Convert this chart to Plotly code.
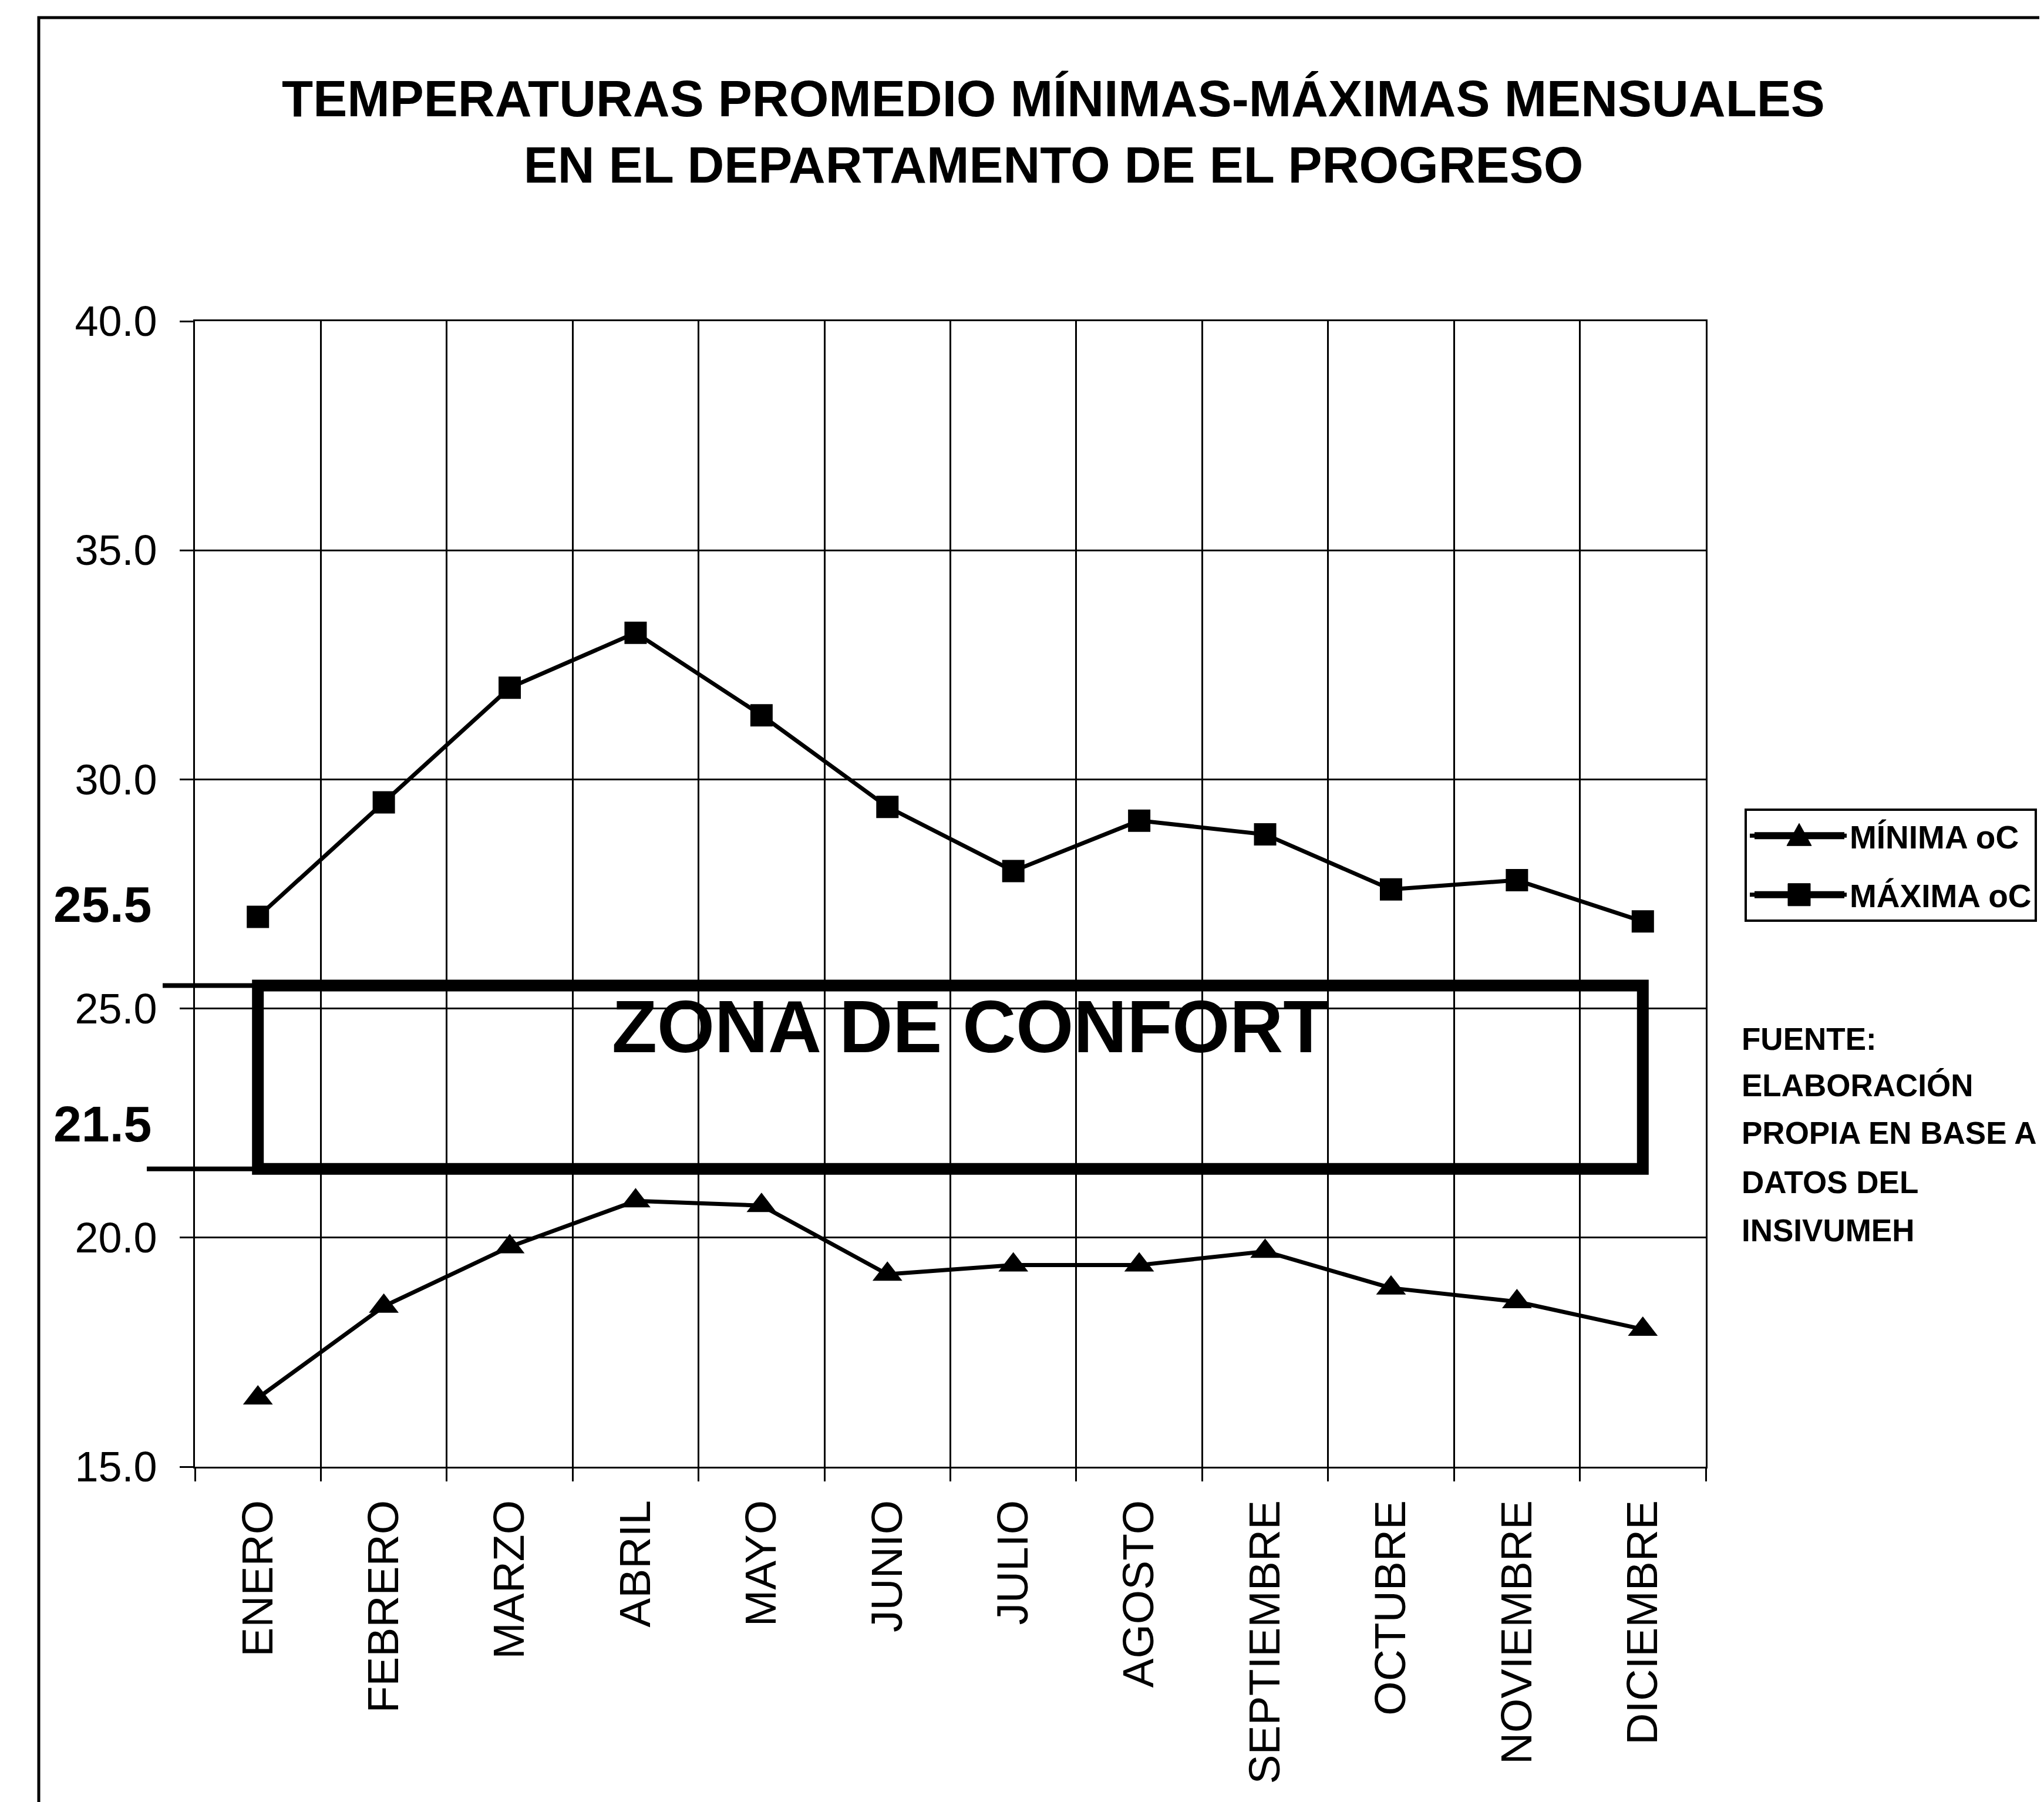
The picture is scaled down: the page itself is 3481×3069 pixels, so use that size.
import plotly.graph_objects as go

# ---------------- data ----------------
meses = ["ENERO", "FEBRERO", "MARZO", "ABRIL", "MAYO", "JUNIO", "JULIO",
         "AGOSTO", "SEPTIEMBRE", "OCTUBRE", "NOVIEMBRE", "DICIEMBRE"]
minima = [16.5, 18.5, 19.8, 20.8, 20.7, 19.2, 19.4, 19.4, 19.7, 18.9, 18.6, 18.0]
maxima = [27.0, 29.5, 32.0, 33.2, 31.4, 29.4, 28.0, 29.1, 28.8, 27.6, 27.8, 26.9]
y_ticks = [15, 20, 25, 30, 35, 40]
confort_max = 25.5
confort_min = 21.5
fuente = ["FUENTE:", "ELABORACIÓN", "PROPIA EN BASE A", "DATOS DEL", "INSIVUMEH"]

# ---------------- geometry (pixels) ----------------
W, H = 3481, 3069
L, R, T, B = 324, 2897, 539, 2490
FONT = "Liberation Sans, Arial, sans-serif"


def px(x):
    return (x - L) / (R - L)


def py(y):
    return (B - y) / (B - T)


fig = go.Figure()
fig.add_trace(go.Scatter(
    x=meses, y=minima, name="MÍNIMA oC", mode="lines+markers",
    legendgroup="min",
    line=dict(color="black", width=7),
    marker=dict(symbol="triangle-up", size=44, color="black"),
))
fig.add_trace(go.Scatter(
    x=meses, y=maxima, name="MÁXIMA oC", mode="lines+markers",
    legendgroup="max",
    line=dict(color="black", width=7),
    marker=dict(symbol="square", size=38, color="black"),
))

# legend geometry (plotly vertical legend: item centre = top + bw + gap + h/2)
LEG_TOP = 1369
LEG_FONT = 55
LEG_BW = 4
LEG_GROUPGAP = 26
item_h = LEG_FONT * 1.3 + 3
leg_y = [LEG_TOP + LEG_BW + 5 + item_h / 2,
         LEG_TOP + LEG_BW + 5 + item_h + LEG_GROUPGAP + item_h / 2]

# legend sample decoration (long line + big marker like the original legend)
lx0, lx1, lxc = 2980, 3133, 3056
legend_deco = []
for yy in leg_y:
    legend_deco.append(dict(type="line", xref="paper", yref="paper",
                            x0=px(lx0), x1=px(lx1), y0=py(yy), y1=py(yy),
                            line=dict(color="black", width=12)))
tri = (f"M {px(lxc - 21)},{py(leg_y[0] + 17)} L {px(lxc + 21)},{py(leg_y[0] + 17)} "
       f"L {px(lxc)},{py(leg_y[0] - 21)} Z")
legend_deco.append(dict(type="path", xref="paper", yref="paper", path=tri,
                        fillcolor="black", line=dict(color="black", width=1)))
legend_deco.append(dict(type="rect", xref="paper", yref="paper",
                        x0=px(lxc - 19), x1=px(lxc + 19),
                        y0=py(leg_y[1] + 19), y1=py(leg_y[1] - 19),
                        fillcolor="black", line=dict(color="black", width=1)))

shapes = [
    # outer frame
    dict(type="rect", xref="paper", yref="paper", x0=px(58), x1=px(3700),
         y0=py(3300), y1=py(22), line=dict(color="black", width=5), layer="below"),
    # comfort-zone guide lines
    dict(type="line", xref="paper", yref="y", x0=px(269), x1=0.5 / 12,
         y0=confort_max, y1=confort_max, line=dict(color="black", width=8)),
    dict(type="line", xref="paper", yref="y", x0=px(242), x1=0.5 / 12,
         y0=confort_min, y1=confort_min, line=dict(color="black", width=8)),
    # comfort-zone box
    dict(type="rect", xref="x", yref="y", x0=0, x1=len(meses) - 1,
         y0=confort_min, y1=confort_max, line=dict(color="black", width=20)),
] + legend_deco

annotations = [
    dict(text="ZONA DE CONFORT", xref="paper", yref="y", x=px(1644), y=24.6,
         showarrow=False, xanchor="center", yanchor="middle",
         font=dict(family=FONT, size=126, color="black", weight="bold")),
    dict(text=f"{confort_max:.1f}", xref="paper", yref="y", x=px(252), y=confort_max + 1.77,
         showarrow=False, xanchor="right", yanchor="middle",
         font=dict(family=FONT, size=86, color="black", weight="bold")),
    dict(text=f"{confort_min:.1f}", xref="paper", yref="y", x=px(252), y=confort_min + 0.98,
         showarrow=False, xanchor="right", yanchor="middle",
         font=dict(family=FONT, size=86, color="black", weight="bold")),
]
src_y = [1762, 1840, 1922, 2005, 2087]
for line_txt, yc in zip(fuente, src_y):
    annotations.append(dict(
        text=line_txt, xref="paper", yref="paper", x=px(2956), y=py(yc),
        showarrow=False, xanchor="left", yanchor="middle",
        font=dict(family=FONT, size=53, color="black", weight="bold")))

fig.update_layout(
    width=W, height=H, autosize=False,
    template="none",
    paper_bgcolor="white", plot_bgcolor="white",
    margin=dict(l=L, r=W - R, t=T, b=H - B, pad=0),
    font=dict(family=FONT, color="black"),
    title=dict(
        text="TEMPERATURAS PROMEDIO MÍNIMAS-MÁXIMAS MENSUALES<br>EN EL DEPARTAMENTO DE EL PROGRESO",
        xref="container", yref="container", x=1786 / W, y=1 - 190 / H,
        xanchor="center", yanchor="top",
        font=dict(family=FONT, size=87, color="black", weight="bold"),
    ),
    showlegend=True,
    legend=dict(
        x=px(2963), y=py(LEG_TOP), xanchor="left", yanchor="top",
        bgcolor="rgba(0,0,0,0)", bordercolor="black", borderwidth=LEG_BW,
        font=dict(family=FONT, size=LEG_FONT, color="black", weight="bold"),
        tracegroupgap=LEG_GROUPGAP, itemwidth=165,
    ),
    xaxis=dict(
        type="category", categoryorder="array", categoryarray=meses,
        range=[-0.5, len(meses) - 0.5],
        tickson="boundaries", ticks="outside", ticklen=22, tickwidth=3, tickcolor="black",
        showgrid=True, gridcolor="black", gridwidth=3,
        showline=True, linecolor="black", linewidth=3, mirror=True,
        tickangle=-90, ticklabelstandoff=24,
        tickfont=dict(family=FONT, size=75, color="black"),
        automargin=False, zeroline=False,
    ),
    yaxis=dict(
        range=[y_ticks[0], y_ticks[-1]], tickvals=y_ticks, tickformat=".1f",
        ticks="outside", ticklen=23, tickwidth=3, tickcolor="black",
        showgrid=True, gridcolor="black", gridwidth=3,
        showline=True, linecolor="black", linewidth=3, mirror=True,
        ticklabelstandoff=24,
        tickfont=dict(family=FONT, size=72, color="black"),
        automargin=False, zeroline=False,
    ),
    shapes=shapes,
    annotations=annotations,
)

fig.write_html("out.html")
